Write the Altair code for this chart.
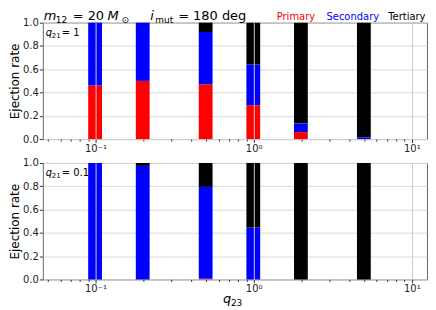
import altair as alt
import pandas as pd

# ---- data ----
q23 = [0.1, 0.2, 0.5, 1.0, 2.0, 5.0]
ejectors = ["Primary", "Secondary", "Tertiary"]
ej_colors = ["#ff0000", "#0000ff", "#000000"]

top_primary = [0.46, 0.50, 0.47, 0.29, 0.06, 0.0]
top_secondary = [0.54, 0.50, 0.45, 0.35, 0.075, 0.015]
top_tertiary = [0.0, 0.0, 0.08, 0.36, 0.865, 0.985]

bot_primary = [0.0, 0.0, 0.005, 0.0, 0.0, 0.0]
bot_secondary = [1.0, 0.975, 0.79, 0.445, 0.0, 0.0]
bot_tertiary = [0.0, 0.025, 0.205, 0.555, 1.0, 1.0]

major_ticks = [0.1, 1, 10]
minor_ticks = [0.05, 0.06, 0.07, 0.08, 0.09,
               0.2, 0.3, 0.4, 0.5, 0.6, 0.7, 0.8, 0.9,
               2, 3, 4, 5, 6, 7, 8, 9]
y_ticks = [0.0, 0.2, 0.4, 0.6, 0.8, 1.0]

W = 386
H = 117
PL = 45  # approximate page x of plot left edge
FONT = "DejaVu Sans"


def panel_df(p, s, t):
    rows = []
    for i, q in enumerate(q23):
        for k, vals in enumerate([p, s, t]):
            rows.append({"q23": q, "ejector": ejectors[k], "idx": k, "rate": vals[i]})
    return pd.DataFrame(rows)


major_test = "indexof([0.1, 1, 10], datum.value) >= 0"
xaxis = alt.Axis(
    values=major_ticks + minor_ticks,
    labelExpr="datum.value == 0.1 ? '10⁻¹' : datum.value == 1 ? '10⁰' : datum.value == 10 ? '10¹' : ''",
    labelOverlap=False, labelFlush=False,
    tickSize={"condition": {"test": major_test, "value": 3.5}, "value": 2},
    gridOpacity={"condition": {"test": major_test, "value": 1}, "value": 0},
    gridColor="#c8c8c8", tickColor="#333333", labelColor="#222222",
    labelFontSize=10, labelFont=FONT, labelPadding=1,
    title=None, domain=False, zindex=1,
)
yaxis = alt.Axis(
    values=y_ticks, format=".1f", title="Ejection rate",
    titleFontSize=12, titleFont=FONT, titleFontWeight="normal", titlePadding=1,
    titleColor="#000000",
    labelFontSize=10, labelFont=FONT, labelColor="#222222", labelPadding=1,
    tickSize=3.5, tickColor="#333333", gridColor="#d9d9d9", domain=False, zindex=0,
)


def bars(df):
    return alt.Chart(df).transform_calculate(
        x1="datum.q23 * 0.9", x2="datum.q23 * 1.1"
    ).mark_bar().encode(
        x=alt.X("x1:Q", scale=alt.Scale(type="log", domain=[0.05, 11.6], nice=False), axis=xaxis),
        x2="x2:Q",
        y=alt.Y("sum(rate):Q", stack="zero", scale=alt.Scale(domain=[0, 1], nice=False), axis=yaxis),
        color=alt.Color("ejector:N", scale=alt.Scale(domain=ejectors, range=ej_colors), legend=None),
        order=alt.Order("idx:Q", sort="ascending"),
    )


def piece(s, x, y, size, italic=False, color="#000000"):
    return alt.Chart(pd.DataFrame({"t": [s]})).mark_text(
        align="left", baseline="alphabetic", fontSize=size, font=FONT,
        fontStyle="italic" if italic else "normal", color=color,
    ).encode(x=alt.value(x), y=alt.value(y), text="t:N")


HY = -3
header = [
    piece("m", 46 - PL, HY, 13, True),
    piece("12", 58 - PL, HY + 3, 9),
    piece("= 20", 75 - PL, HY, 13),
    piece("M", 110 - PL, HY, 13, True),
    piece("⊙", 124 - PL, HY + 3, 9),
    piece("i", 153 - PL, HY, 13, True),
    piece("mut", 158 - PL, HY + 3, 9),
    piece("= 180 deg", 181 - PL, HY, 13),
    piece("Primary", 280 - PL, HY, 10, color="#ff0000"),
    piece("Secondary", 330 - PL, HY, 10, color="#0000ff"),
    piece("Tertiary", 392 - PL, HY, 10, color="#000000"),
]

top_note = [piece("q", 3, 13, 10, True), piece("21", 9, 15, 7), piece("= 1", 19, 13, 10)]
bot_note = [piece("q", 3, 13, 10, True), piece("21", 9, 15, 7), piece("= 0.1", 19, 13, 10)]
xtitle = [piece("q", W / 2 - 12, H + 24, 13, True), piece("23", W / 2 - 4, H + 27, 9)]

top = alt.layer(bars(panel_df(top_primary, top_secondary, top_tertiary)), *top_note, *header).properties(width=W, height=H)
bottom = alt.layer(bars(panel_df(bot_primary, bot_secondary, bot_tertiary)), *bot_note, *xtitle).properties(width=W, height=H)

chart = alt.vconcat(top, bottom, spacing=3).properties(
    padding={"left": 0, "top": 0, "right": 0, "bottom": 0}
).configure_view(stroke="#666666", strokeWidth=1).configure_concat(spacing=3)

chart.save("out.html", embed_options={"renderer": "svg", "actions": False})
